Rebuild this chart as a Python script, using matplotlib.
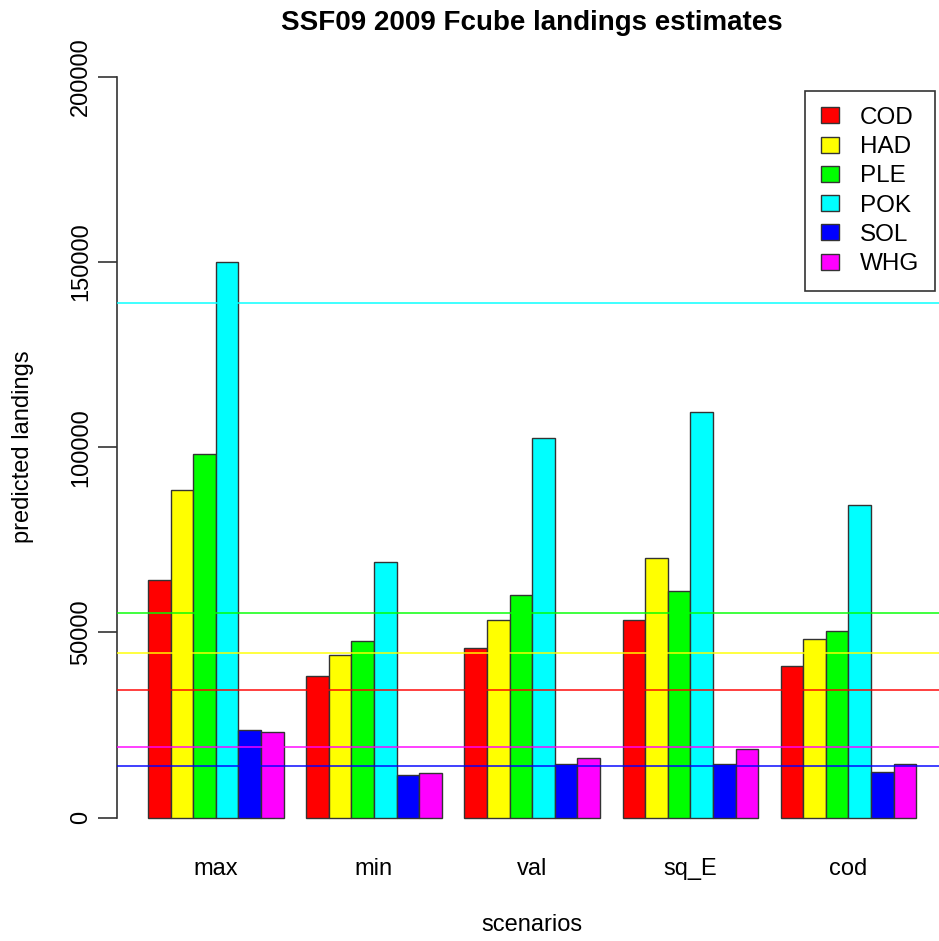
import matplotlib.pyplot as plt
import numpy as np

plt.rcParams["font.family"] = ["Liberation Sans", "DejaVu Sans"]

# =====================================================
# Data
# =====================================================
scenarios = ["max", "min", "val", "sq_E", "cod"]
stocks = ["COD", "HAD", "PLE", "POK", "SOL", "WHG"]
colors = ["#FF0000", "#FFFF00", "#00FF00", "#00FFFF", "#0000FF", "#FF00FF"]

cod = [64100, 38200, 45900, 53300, 41000]
had = [88500, 44000, 53300, 70200, 48100]
ple = [98100, 47800, 60100, 61100, 50400]
pok = [150100, 69100, 102600, 109600, 84500]
sol = [23600, 11600, 14500, 14500, 12300]
whg = [23200, 12000, 16200, 18500, 14500]

# reference (TAC) levels drawn as horizontal lines
ref_levels = [34500, 44400, 55200, 139000, 13900, 19100]

values = [cod, had, ple, pok, sol, whg]

# =====================================================
# Figure / axes (R barplot look)
# =====================================================
W, H = 939, 941
fig = plt.figure(figsize=(W / 100, H / 100), dpi=100)

left_px, right_px = 117.3, 947.0
top_px, bot_px = 47.0, 847.3
ax = fig.add_axes([
    left_px / W,
    1 - bot_px / H,
    (right_px - left_px) / W,
    (bot_px - top_px) / H
])

n_stock = len(stocks)
group = n_stock + 1
for i, (vals, col) in enumerate(zip(values, colors)):
    x = np.arange(len(scenarios)) * group + 1 + i + 0.5
    ax.bar(
        x,
        vals,
        width=1.0,
        color=col,
        edgecolor="#333333",
        linewidth=1.0,
        zorder=2
    )

for lvl, col in zip(ref_levels, colors):
    ax.axhline(lvl, color=col, linewidth=1.4, alpha=0.75, zorder=3)

centers = np.arange(len(scenarios)) * group + 1 + n_stock / 2
ax.set_xticks(centers)
ax.set_xticklabels(scenarios, fontsize=17)
ax.tick_params(axis="x", length=0, pad=8)

ax.set_xlim(-0.36, 36.36)
ax.set_ylim(-8000, 208000)
ax.set_yticks([0, 50000, 100000, 150000, 200000])
ax.set_yticklabels(["0", "50000", "100000", "150000", "200000"],
                   rotation=90, va="center", fontsize=17)
ax.tick_params(axis="y", length=14, width=1.2, pad=4, color="#333333")

for s in ["top", "right", "bottom"]:
    ax.spines[s].set_visible(False)
ax.spines["left"].set_bounds(0, 200000)
ax.spines["left"].set_color("#333333")
ax.spines["left"].set_linewidth(1.2)

ax.set_title("SSF09 2009 Fcube landings estimates",
             fontsize=20, fontweight="bold", pad=12)
ax.set_xlabel("scenarios", fontsize=17, labelpad=24)
ax.set_ylabel("predicted landings", fontsize=17, labelpad=26)

handles = [
    plt.Rectangle((0, 0), 1, 1, facecolor=c, edgecolor="#333333", linewidth=1.0)
    for c in colors
]
leg = ax.legend(
    handles,
    stocks,
    loc="upper right",
    bbox_to_anchor=(935 / W, 1 - 91 / H),
    bbox_transform=fig.transFigure,
    fontsize=17.5,
    frameon=True,
    fancybox=False,
    framealpha=1,
    edgecolor="#333333",
    borderpad=0.65,
    borderaxespad=0,
    handlelength=0.76,
    handleheight=0.64,
    handletextpad=0.85,
    labelspacing=0.3
)
leg.get_frame().set_linewidth(1.2)
leg.set_zorder(5)

fig.savefig("out.png", dpi=100)
